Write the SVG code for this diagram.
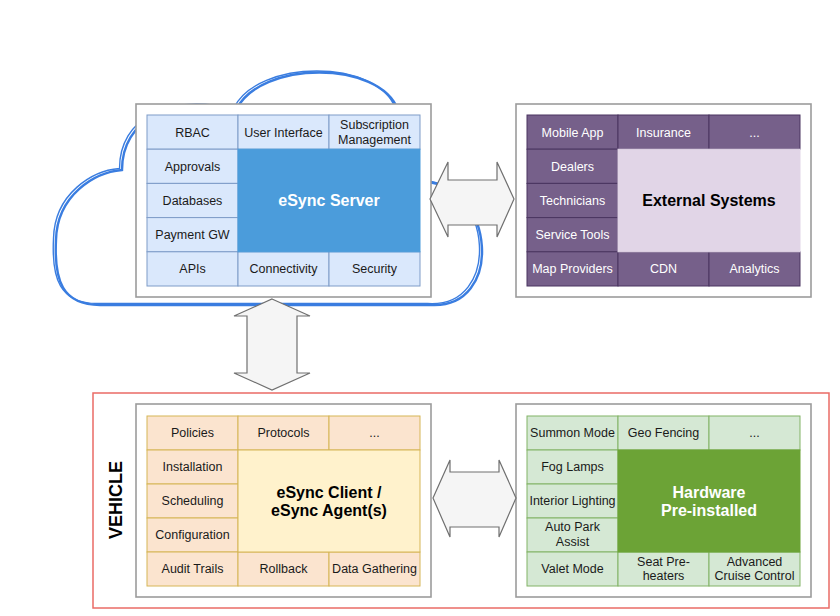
<svg xmlns="http://www.w3.org/2000/svg" width="840" height="616" viewBox="0 0 840 616">
<style>
text{font-family:"Liberation Sans",Arial,Helvetica,sans-serif;text-anchor:middle}
.c{font-size:12.5px;fill:#1a1a1a}
.w{font-size:12.5px;fill:#ffffff}
.t{font-size:16px;font-weight:bold}
.outer{fill:#ffffff;stroke:#9c9c9c;stroke-width:1.6}
.sv{fill:#dae8fc;stroke:#7e9cc8;stroke-width:1}
.ex{fill:#76608a;stroke:#4a3560;stroke-width:1}
.cl{fill:#fbe4cf;stroke:#d6b656;stroke-width:1}
.hw{fill:#d5e8d4;stroke:#82b366;stroke-width:1}
.arrow{fill:#f5f5f5;stroke:#707070;stroke-width:1.2}
.cloud{fill:none;stroke:#3a7de0}
</style>

<g id="cloud">
<path class="cloud" stroke-width="2.4" d="M122 170 C122 120,170 95,236 110 C260 60,380 60,398 110 C420 120,430 150,425 182 C495 185,505 310,430 305 L100 305 C62 305,54 280,56 240 C57 195,95 172,122 170 Z"/>
<path class="cloud" stroke-width="1.4" transform="translate(-2.5,-1.5)" d="M122 170 C122 120,170 95,236 110 C260 60,380 60,398 110 C420 120,430 150,425 182 C495 185,505 310,430 305 L100 305 C62 305,54 280,56 240 C57 195,95 172,122 170 Z"/>
</g>

<g id="vehicle">
<rect x="93" y="393" width="736" height="215" fill="none" stroke="#ea6b66" stroke-width="1.5"/>
<text class="t" style="font-size:18px" transform="translate(121.5,500) rotate(-90)">VEHICLE</text>
</g>

<g id="server">
<rect class="outer" x="136" y="104" width="295" height="193"/>
<rect class="sv" x="147" y="115" width="91" height="34.2"/>
<rect class="sv" x="238" y="115" width="91" height="34.2"/>
<rect class="sv" x="329" y="115" width="91" height="34.2"/>
<rect class="sv" x="147" y="149.2" width="91" height="34.2"/>
<rect class="sv" x="147" y="183.4" width="91" height="34.2"/>
<rect class="sv" x="147" y="217.6" width="91" height="34.2"/>
<rect class="sv" x="147" y="251.8" width="91" height="34.2"/>
<rect class="sv" x="238" y="251.8" width="91" height="34.2"/>
<rect class="sv" x="329" y="251.8" width="91" height="34.2"/>
<rect x="238" y="149.2" width="182" height="102.6" fill="#4b9cdb" stroke="#4b9cdb"/>
<text class="c" x="192.5" y="136.5">RBAC</text>
<text class="c" x="283.5" y="136.5">User Interface</text>
<text class="c" x="374.5" y="129.4">Subscription</text>
<text class="c" x="374.5" y="143.9">Management</text>
<text class="c" x="192.5" y="170.7">Approvals</text>
<text class="c" x="192.5" y="204.9">Databases</text>
<text class="c" x="192.5" y="239.1">Payment GW</text>
<text class="c" x="192.5" y="273.3">APIs</text>
<text class="c" x="283.5" y="273.3">Connectivity</text>
<text class="c" x="374.5" y="273.3">Security</text>
<text class="t" x="329" y="206" fill="#ffffff">eSync Server</text>
</g>

<g id="external">
<rect class="outer" x="516" y="104" width="295" height="193"/>
<rect class="ex" x="527" y="115" width="91" height="34.2"/>
<rect class="ex" x="618" y="115" width="91" height="34.2"/>
<rect class="ex" x="709" y="115" width="91" height="34.2"/>
<rect class="ex" x="527" y="149.2" width="91" height="34.2"/>
<rect class="ex" x="527" y="183.4" width="91" height="34.2"/>
<rect class="ex" x="527" y="217.6" width="91" height="34.2"/>
<rect class="ex" x="527" y="251.8" width="91" height="34.2"/>
<rect class="ex" x="618" y="251.8" width="91" height="34.2"/>
<rect class="ex" x="709" y="251.8" width="91" height="34.2"/>
<rect x="618" y="149.2" width="182" height="102.6" fill="#e1d5e7" stroke="#e1d5e7"/>
<text class="w" x="572.5" y="136.5">Mobile App</text>
<text class="w" x="663.5" y="136.5">Insurance</text>
<text class="w" x="754.5" y="136.5">...</text>
<text class="w" x="572.5" y="170.7">Dealers</text>
<text class="w" x="572.5" y="204.9">Technicians</text>
<text class="w" x="572.5" y="239.1">Service Tools</text>
<text class="w" x="572.5" y="273.3">Map Providers</text>
<text class="w" x="663.5" y="273.3">CDN</text>
<text class="w" x="754.5" y="273.3">Analytics</text>
<text class="t" x="709" y="206" fill="#000000">External Systems</text>
</g>

<g id="client">
<rect class="outer" x="136" y="404" width="295" height="193"/>
<rect class="cl" x="147" y="416" width="91" height="34"/>
<rect class="cl" x="238" y="416" width="91" height="34"/>
<rect class="cl" x="329" y="416" width="91" height="34"/>
<rect class="cl" x="147" y="450" width="91" height="34"/>
<rect class="cl" x="147" y="484" width="91" height="34"/>
<rect class="cl" x="147" y="518" width="91" height="34"/>
<rect class="cl" x="147" y="552" width="91" height="34"/>
<rect class="cl" x="238" y="552" width="91" height="34"/>
<rect class="cl" x="329" y="552" width="91" height="34"/>
<rect x="238" y="450" width="182" height="102" fill="#fff2cc" stroke="#d6b656"/>
<text class="c" x="192.5" y="437.4">Policies</text>
<text class="c" x="283.5" y="437.4">Protocols</text>
<text class="c" x="374.5" y="437.4">...</text>
<text class="c" x="192.5" y="471.4">Installation</text>
<text class="c" x="192.5" y="505.4">Scheduling</text>
<text class="c" x="192.5" y="539.4">Configuration</text>
<text class="c" x="192.5" y="573.4">Audit Trails</text>
<text class="c" x="283.5" y="573.4">Rollback</text>
<text class="c" x="374.5" y="573.4">Data Gathering</text>
<text class="t" x="329" y="497.5" fill="#000000">eSync Client /</text>
<text class="t" x="329" y="516" fill="#000000">eSync Agent(s)</text>
</g>

<g id="hardware">
<rect class="outer" x="516" y="404" width="295" height="193"/>
<rect class="hw" x="527" y="416" width="91" height="34"/>
<rect class="hw" x="618" y="416" width="91" height="34"/>
<rect class="hw" x="709" y="416" width="91" height="34"/>
<rect class="hw" x="527" y="450" width="91" height="34"/>
<rect class="hw" x="527" y="484" width="91" height="34"/>
<rect class="hw" x="527" y="518" width="91" height="34"/>
<rect class="hw" x="527" y="552" width="91" height="34"/>
<rect class="hw" x="618" y="552" width="91" height="34"/>
<rect class="hw" x="709" y="552" width="91" height="34"/>
<rect x="618" y="450" width="182" height="102" fill="#6ca336" stroke="#6ca336"/>
<text class="c" x="572.5" y="437.4">Summon Mode</text>
<text class="c" x="663.5" y="437.4">Geo Fencing</text>
<text class="c" x="754.5" y="437.4">...</text>
<text class="c" x="572.5" y="471.4">Fog Lamps</text>
<text class="c" x="572.5" y="505.4">Interior Lighting</text>
<text class="c" x="572.5" y="531.2">Auto Park</text>
<text class="c" x="572.5" y="546">Assist</text>
<text class="c" x="572.5" y="573.4">Valet Mode</text>
<text class="c" x="663.5" y="566.2">Seat Pre-</text>
<text class="c" x="663.5" y="580.4">heaters</text>
<text class="c" x="754.5" y="566.2">Advanced</text>
<text class="c" x="754.5" y="580.4">Cruise Control</text>
<text class="t" x="709" y="497.5" fill="#ffffff">Hardware</text>
<text class="t" x="709" y="516" fill="#ffffff">Pre-installed</text>
</g>

<g id="connectors">
<polygon class="arrow" points="430,199 448,162 448,180 497,180 497,162 514,199 497,237 497,225 448,225 448,237"/>
<polygon class="arrow" points="272,299 310,316 297,316 297,373 310,373 272,390 234,373 247,373 247,316 234,316"/>
<polygon class="arrow" points="433,498 450,460 450,472 499,472 499,460 516,498 499,537 499,527 450,527 450,537"/>
</g>
</svg>
